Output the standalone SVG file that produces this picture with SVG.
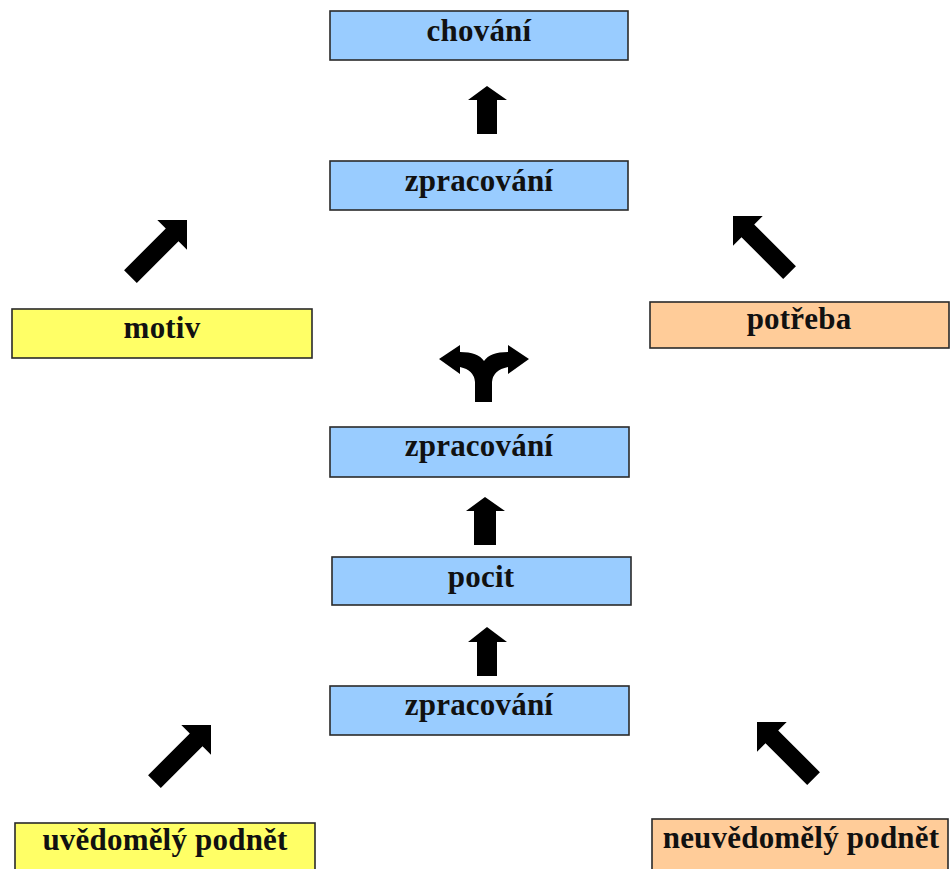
<svg xmlns="http://www.w3.org/2000/svg" xmlns:xlink="http://www.w3.org/1999/xlink" width="950" height="869" viewBox="0 0 950 869">
<style>
.box{stroke:#2a2a2a;stroke-width:1.6}
.blue{fill:#99CCFF}
.yellow{fill:#FFFF66}
.orange{fill:#FFCC99}
text{font-family:"Liberation Serif","Times New Roman",serif;font-weight:bold;font-size:31px;letter-spacing:0.2px;fill:#111;text-anchor:middle}
.arr{fill:#000}
</style>
<defs>
<polygon id="diag" points="0,0 -21,-21 -21,-9 -80,-9 -80,9 -21,9 -21,21"/>
</defs>
<rect width="950" height="869" fill="#fff"/>
<g id="chovani"><rect class="box blue" x="330" y="11" width="298" height="49"/><text x="479" y="41">chování</text></g>
<g id="zpracovani1"><rect class="box blue" x="330" y="161" width="298" height="49"/><text x="479" y="191">zpracování</text></g>
<g id="motiv"><rect class="box yellow" x="12" y="309" width="300" height="49"/><text x="162" y="338">motiv</text></g>
<g id="potreba"><rect class="box orange" x="650" y="302" width="299" height="46"/><text x="799" y="329">potřeba</text></g>
<g id="zpracovani2"><rect class="box blue" x="330" y="427" width="299" height="50"/><text x="479" y="456">zpracování</text></g>
<g id="pocit"><rect class="box blue" x="332" y="557" width="299" height="48"/><text x="481" y="587">pocit</text></g>
<g id="zpracovani3"><rect class="box blue" x="330" y="686" width="299" height="49"/><text x="479" y="715">zpracování</text></g>
<g id="uvedomely"><rect class="box yellow" x="15" y="823" width="300" height="60"/><text x="165" y="850">uvědomělý podnět</text></g>
<g id="neuvedomely"><rect class="box orange" x="652" y="819" width="296" height="60"/><text x="801" y="848">neuvědomělý podnět</text></g>
<g id="connectors" class="arr">
<polygon points="487,86 507,100 497,100 497,134 477,134 477,100 468,100"/>
<polygon points="485,497 505,511 496,511 496,545 474,545 474,511 466,511"/>
<polygon points="487,627 507,642 497,642 497,676 477,676 477,642 468,642"/>
<path d="M475,402 L475,382 Q474,370 460,367 L460,374 L439,359 L460,345 L460,352 Q478,352 484,361 Q490,352 508,352 L508,345 L529,359 L508,374 L508,367 Q493,370 492,382 L492,402 Z"/>
<use xlink:href="#diag" transform="translate(187,220) rotate(-45)"/>
<use xlink:href="#diag" transform="translate(211,725) rotate(-45)"/>
<use xlink:href="#diag" transform="translate(733,216) rotate(-135)"/>
<use xlink:href="#diag" transform="translate(757,722) rotate(-135)"/>
</g>
</svg>
